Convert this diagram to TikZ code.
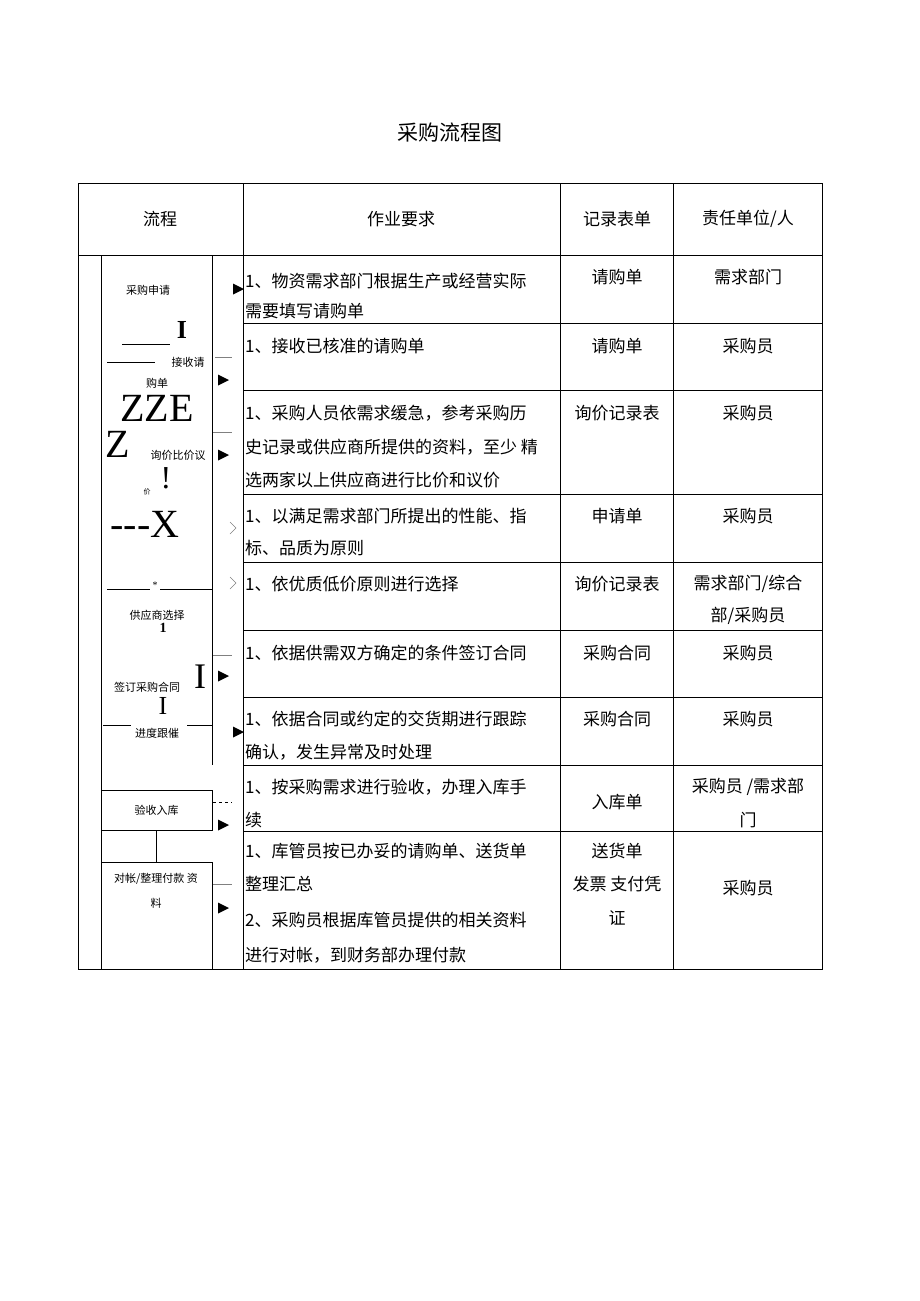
\documentclass[tikz,border=0pt]{standalone}
\usepackage{fontspec}
\setmainfont{Liberation Serif}
\newfontfamily\cjk{Noto Sans CJK SC}
\begin{document}
\begin{tikzpicture}[x=1pt,y=-1pt,
  tl/.style={font=\cjk\fontsize{17}{19}\selectfont,anchor=west,inner sep=0},
  tc/.style={font=\cjk\fontsize{17}{19}\selectfont,inner sep=0},
  fl/.style={font=\cjk\fontsize{11}{13}\selectfont,inner sep=0},
  big/.style={font=\fontsize{40}{40}\selectfont,inner sep=0},
  grid/.style={line width=0.8pt},
  tri/.style={fill=black}]
\useasboundingbox (0,0) rectangle (920,1301);
\node[font=\cjk\fontsize{21}{23}\selectfont] (title) at (450,133) {采购流程图};
% table
\draw[grid] (78,183) rectangle (822,969);
\foreach \x in {243,560,673} \draw[grid] (\x,183) -- (\x,969);
\foreach \y in {255,323,390,494,562,630,697,765,831} \draw[grid] (243,\y) -- (822,\y);
\draw[grid] (78,255) -- (243,255);
\draw[grid] (101,255) -- (101,969);
\draw[grid] (212,255) -- (212,765);
\node[tc] (h1) at (160,219) {流程};
\node[tc] (h2) at (401,219) {作业要求};
\node[tc] (h3) at (617,219) {记录表单};
\node[tc] (h4) at (748,219) {责任单位/人};
% flow boxes
\node[draw,grid,minimum width=111,minimum height=40,fl] (b1) at (156.5,810) {验收入库};
\node[draw,grid,minimum width=111,minimum height=107,inner sep=0] (b2) at (156.5,915.5) {};
\node[fl] (b2t) at (156,879) {对帐/整理付款\ 资};
\node[fl] (b2u) at (156,903) {料};
\draw[grid] (b1.south) -- (b2.north);
% flow labels and artefacts
\node[fl] (f1) at (148,290) {采购申请};
\node[fl] (f2) at (188,362) {接收请};
\node[fl] (f3) at (157,383) {购单};
\node[big] (z1) at (157,408) {ZZE};
\node[big] (z2) at (118,444) {Z};
\node[fl] (f4) at (178,455) {询价比价议};
\node[font=\cjk\fontsize{7}{8}\selectfont,inner sep=0] (f5) at (147,492) {价};
\node[font=\fontsize{32}{32}\selectfont,inner sep=0] (ex) at (166,478) {!};
\node[font=\fontsize{40}{40}\selectfont,inner sep=0] (x1) at (145,524) {-{}-{}-X};
\node[font=\bfseries\fontsize{26}{26}\selectfont,inner sep=0] (one1) at (182,330) {I};
\draw[line width=1pt] (122,344) -- (170,344) (107,362) -- (155,362);
\draw[line width=0.4pt] (107,589) -- (150,589) (160,589) -- (212,589);
\node[font=\fontsize{10}{10}\selectfont,inner sep=0] (st) at (155,585) {*};
\node[fl] (f6) at (157,615) {供应商选择};
\node[font=\bfseries\fontsize{14}{14}\selectfont,inner sep=0] (one2) at (163,628) {1};
\node[fl] (f7) at (147,687) {签订采购合同};
\node[font=\fontsize{36}{36}\selectfont,inner sep=0] (I1) at (200,677) {I};
\node[font=\fontsize{26}{26}\selectfont,inner sep=0] (one3) at (163,706) {I};
\draw[line width=1pt] (103,725) -- (131,725) (187,725) -- (212,725);
\node[fl] (f8) at (157,733) {进度跟催};
% connector stubs and arrowheads
\draw[gray] (215,357) -- (232,357) (213,432) -- (232,432) (213,655) -- (232,655) (213,884) -- (232,884);
\draw[dashed] (213,802) -- (232,802);
\foreach \xx/\yy in {218/380,218/455,218/676,218/825,218/908,233/289,233/732}
  \fill (\xx,\yy-5.5) -- (\xx+11,\yy) -- (\xx,\yy+5.5) -- cycle;
\draw[gray] (230,522) -- (236,528) -- (230,534) (230,577) -- (236,583) -- (230,589);
% body texts
\node[tl] (r1a) at (245,281) {1、物资需求部门根据生产或经营实际};
\node[tl] (r1b) at (245,311) {需要填写请购单};
\node[tc] (r1c) at (617,277) {请购单};
\node[tc] (r1d) at (748,277) {需求部门};
\node[tl] (r2a) at (245,346) {1、接收已核准的请购单};
\node[tc] (r2c) at (617,346) {请购单};
\node[tc] (r2d) at (748,346) {采购员};
\node[tl] (r3a) at (245,413) {1、采购人员依需求缓急，参考采购历};
\node[tl] (r3b) at (245,447) {史记录或供应商所提供的资料，至少 精};
\node[tl] (r3e) at (245,480) {选两家以上供应商进行比价和议价};
\node[tc] (r3c) at (617,413) {询价记录表};
\node[tc] (r3d) at (748,413) {采购员};
\node[tl] (r4a) at (245,516) {1、以满足需求部门所提出的性能、指};
\node[tl] (r4b) at (245,548) {标、品质为原则};
\node[tc] (r4c) at (617,516) {申请单};
\node[tc] (r4d) at (748,516) {采购员};
\node[tl] (r5a) at (245,584) {1、依优质低价原则进行选择};
\node[tc] (r5c) at (617,584) {询价记录表};
\node[tc] (r5d) at (748,584) {需求部门/综合};
\node[tc] (r5e) at (748,616) {部/采购员};
\node[tl] (r6a) at (245,653) {1、依据供需双方确定的条件签订合同};
\node[tc] (r6c) at (617,653) {采购合同};
\node[tc] (r6d) at (748,653) {采购员};
\node[tl] (r7a) at (245,719) {1、依据合同或约定的交货期进行跟踪};
\node[tl] (r7b) at (245,752) {确认，发生异常及时处理};
\node[tc] (r7c) at (617,719) {采购合同};
\node[tc] (r7d) at (748,719) {采购员};
\node[tl] (r8a) at (245,787) {1、按采购需求进行验收，办理入库手};
\node[tl] (r8b) at (245,820) {续};
\node[tc] (r8c) at (617,802) {入库单};
\node[tc] (r8d) at (748,787) {采购员\ /需求部};
\node[tc] (r8e) at (748,820) {门};
\node[tl] (r9a) at (245,851) {1、库管员按已办妥的请购单、送货单};
\node[tl] (r9b) at (245,884) {整理汇总};
\node[tl] (r9e) at (245,920) {2、采购员根据库管员提供的相关资料};
\node[tl] (r9f) at (245,955) {进行对帐，到财务部办理付款};
\node[tc] (r9c) at (617,851) {送货单};
\node[tc] (r9g) at (617,884) {发票\ 支付凭};
\node[tc] (r9h) at (617,918) {证};
\node[tc] (r9d) at (748,888) {采购员};
\end{tikzpicture}
\end{document}
